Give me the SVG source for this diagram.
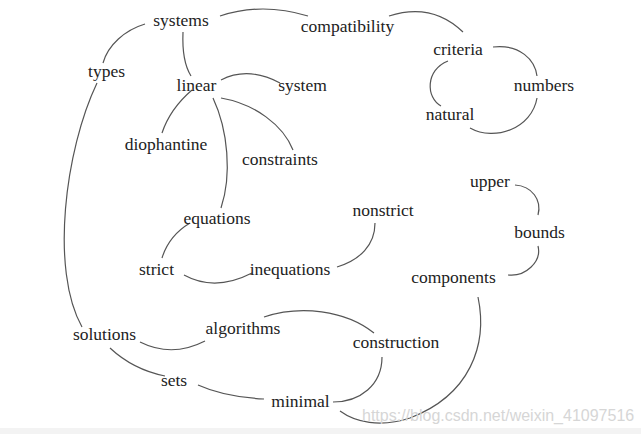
<svg xmlns="http://www.w3.org/2000/svg" width="641" height="434" viewBox="0 0 641 434">
<style>
.n text{font-family:"Liberation Serif","Times New Roman",serif;font-size:17.5px;fill:#222;text-anchor:middle}
#edges path{fill:none;stroke:#555;stroke-width:1.2}
.wm{font-family:"Liberation Sans",Arial,sans-serif;font-size:16px;fill:#d6d6d6}
</style>
<rect x="0" y="0" width="641" height="434" fill="#fff"/>
<rect x="0" y="428" width="641" height="6" fill="#f3f3f3"/>
<g id="edges">
<path d="M220,16 Q262,2 308,16"/>
<path d="M389,16 Q432,2 463,32"/>
<path d="M493,47 C520,44 535,60 537,76"/>
<path d="M537,98 C532,128 495,142 470,128"/>
<path d="M448,61 C425,70 426,98 441,106"/>
<path d="M145,24 C125,30 108,45 103,63"/>
<path d="M97,83 C65,150 50,270 82,327"/>
<path d="M183,32 C182,55 186,68 191,76"/>
<path d="M221,80 Q248,66 280,83"/>
<path d="M192,90 C178,102 167,118 162,133"/>
<path d="M221,98 C255,104 283,125 293,150"/>
<path d="M213,98 C228,130 232,175 221,208"/>
<path d="M190,223 C175,232 166,245 162,258"/>
<path d="M184,275 Q215,292 252,273"/>
<path d="M337,267 C360,260 375,245 375,223"/>
<path d="M515,185 C532,186 542,200 538,215"/>
<path d="M538,246 C542,262 525,277 508,275"/>
<path d="M478,297 C488,345 470,395 410,418 C380,428 355,422 340,411"/>
<path d="M333,402 C360,402 382,385 382,357"/>
<path d="M264,317 C300,305 345,310 374,333"/>
<path d="M140,342 Q172,358 205,341"/>
<path d="M110,348 C125,362 145,372 165,376"/>
<path d="M198,385 C220,395 245,398 264,399"/>
</g>
<g id="systems" class="n"><text x="181" y="26">systems</text></g>
<g id="compatibility" class="n"><text x="347.5" y="32">compatibility</text></g>
<g id="criteria" class="n"><text x="458" y="55">criteria</text></g>
<g id="numbers" class="n"><text x="544" y="91">numbers</text></g>
<g id="natural" class="n"><text x="450" y="120">natural</text></g>
<g id="types" class="n"><text x="106.5" y="77">types</text></g>
<g id="linear" class="n"><text x="196.5" y="91">linear</text></g>
<g id="system" class="n"><text x="302.5" y="91">system</text></g>
<g id="diophantine" class="n"><text x="166" y="150">diophantine</text></g>
<g id="constraints" class="n"><text x="280" y="165">constraints</text></g>
<g id="equations" class="n"><text x="217" y="224">equations</text></g>
<g id="strict" class="n"><text x="156.5" y="275">strict</text></g>
<g id="inequations" class="n"><text x="290" y="275">inequations</text></g>
<g id="nonstrict" class="n"><text x="383" y="216">nonstrict</text></g>
<g id="upper" class="n"><text x="490" y="187">upper</text></g>
<g id="bounds" class="n"><text x="539.5" y="238">bounds</text></g>
<g id="components" class="n"><text x="453.5" y="283">components</text></g>
<g id="solutions" class="n"><text x="104.5" y="340">solutions</text></g>
<g id="algorithms" class="n"><text x="243" y="334">algorithms</text></g>
<g id="sets" class="n"><text x="174" y="386">sets</text></g>
<g id="minimal" class="n"><text x="300.5" y="407">minimal</text></g>
<g id="construction" class="n"><text x="396" y="348">construction</text></g>
<text class="wm" x="362" y="421">https://blog.csdn.net/weixin_41097516</text>
</svg>
